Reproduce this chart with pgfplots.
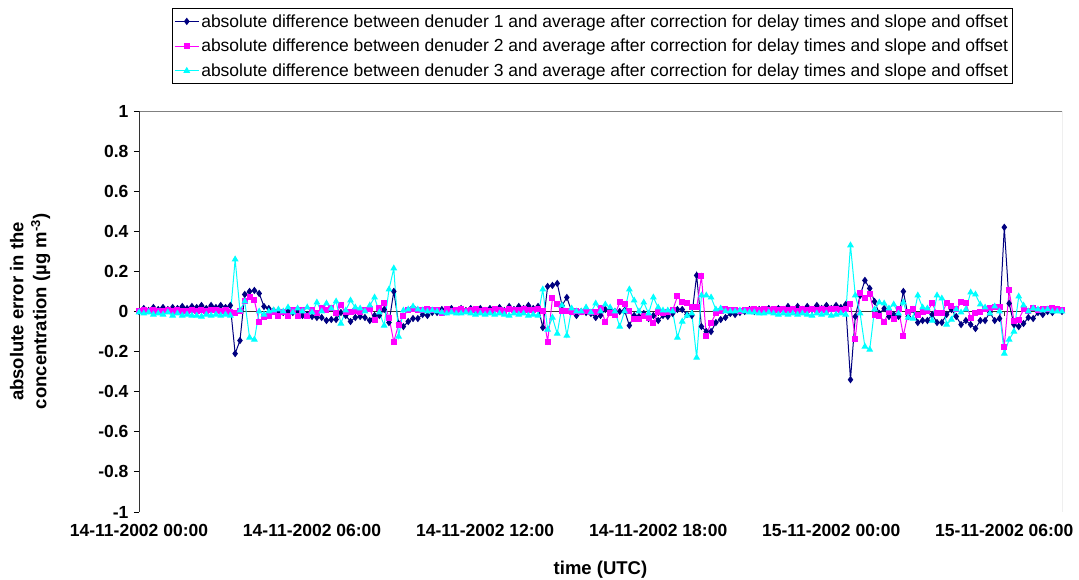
\documentclass[border=0pt]{standalone}
\usepackage{fontspec}
\setmainfont{Liberation Sans}
\usepackage{pgfplots}
\pgfplotsset{compat=1.18}
\usepackage{pgfplotstable}

\definecolor{denOne}{RGB}{0,0,128}
\definecolor{denTwo}{RGB}{255,0,255}
\definecolor{denThree}{RGB}{0,255,255}
\definecolor{frame}{RGB}{128,128,128}

% minutes after 14-11-2002 00:00 UTC; absolute differences in ug m^-3
\pgfplotstableread{
min s1 s2 s3
0 0.0 0.0 -0.005
10 0.015 0.005 -0.01
20 0.005 0.0 -0.005
30 0.02 0.005 -0.015
40 0.01 0.0 -0.01
50 0.02 0.0 -0.015
60 0.01 0.005 -0.005
70 0.02 0.0 -0.02
80 0.015 0.005 -0.01
90 0.025 0.0 -0.02
100 0.015 0.0 -0.015
110 0.025 0.005 -0.02
120 0.02 0.0 -0.02
130 0.03 0.005 -0.025
140 0.015 0.0 -0.015
150 0.03 0.005 -0.02
160 0.02 0.005 -0.015
170 0.03 0.0 -0.02
180 0.02 0.005 -0.015
190 0.03 -0.005 -0.02
200 -0.21 -0.01 0.26
210 -0.145 0.0 0.005
220 0.085 0.05 0.05
230 0.10 0.07 -0.13
240 0.105 0.055 -0.14
250 0.09 -0.05 0.0
260 0.025 -0.025 -0.015
270 0.015 -0.02 0.0
280 0.005 -0.005 0.005
290 0.0 -0.02 0.01
300 -0.005 -0.005 0.0
310 0.0 -0.02 0.02
320 -0.005 0.005 -0.005
330 0.0 -0.02 0.015
340 -0.02 0.005 0.0
350 -0.015 -0.02 0.02
360 -0.025 0.005 -0.005
370 -0.03 -0.01 0.045
380 -0.03 0.015 0.0
390 -0.045 0.005 0.04
400 -0.04 0.015 0.015
410 -0.04 -0.01 0.05
420 -0.005 0.03 -0.06
430 -0.02 -0.005 0.005
440 -0.05 -0.005 0.055
450 -0.03 0.0 0.02
460 -0.025 -0.005 0.015
470 -0.03 0.005 0.0
480 -0.045 0.01 0.03
490 -0.02 -0.04 0.07
500 -0.02 0.015 -0.005
510 0.01 0.04 -0.07
520 -0.055 -0.03 0.11
530 0.10 -0.15 0.215
540 -0.06 -0.065 -0.125
550 -0.075 -0.02 0.005
560 -0.05 0.005 0.01
570 -0.035 0.01 0.025
580 -0.035 0.005 0.01
590 -0.015 0.005 0.005
600 -0.02 0.01 0.0
610 -0.005 0.005 0.005
620 -0.005 0.005 0.0
630 0.01 -0.01 -0.005
640 0.0 0.01 -0.01
650 0.015 0.0 -0.005
660 0.0 0.005 -0.01
670 0.015 0.01 -0.01
680 0.005 0.0 -0.005
690 0.015 0.005 -0.01
700 0.005 0.01 -0.015
710 0.015 0.0 -0.01
720 0.005 0.005 -0.015
730 0.015 0.0 -0.01
740 0.005 0.01 -0.015
750 0.02 0.005 -0.01
760 0.005 0.0 -0.015
770 0.025 0.01 -0.02
780 0.01 0.005 -0.01
790 0.025 0.005 -0.015
800 0.015 0.01 -0.01
810 0.03 0.005 -0.02
820 0.015 0.005 -0.015
830 0.025 0.01 -0.02
840 -0.08 0.0 0.11
850 0.125 -0.15 -0.09
860 0.13 0.065 -0.03
870 0.14 0.035 -0.11
880 0.03 0.0 0.03
890 0.07 0.0 -0.12
900 0.0 -0.005 0.015
910 -0.02 0.0 0.0
920 0.0 -0.005 0.0
930 -0.005 0.0 0.02
940 -0.01 -0.005 -0.005
950 -0.03 -0.005 0.04
960 -0.02 0.015 0.0
970 0.01 -0.05 0.035
980 0.005 -0.01 0.02
990 0.0 -0.015 0.0
1000 0.0 0.045 -0.075
1010 0.005 0.035 0.0
1020 -0.07 0.0 0.11
1030 -0.02 -0.035 0.055
1040 -0.025 -0.035 0.0
1050 -0.01 -0.02 0.045
1060 -0.035 -0.03 -0.01
1070 -0.02 -0.055 0.07
1080 -0.045 -0.005 0.02
1090 -0.02 -0.01 0.005
1100 -0.025 -0.005 0.005
1110 -0.01 0.005 0.0
1120 0.01 0.075 -0.13
1130 0.01 0.045 -0.05
1140 -0.015 0.04 -0.02
1150 -0.02 0.02 -0.01
1160 0.18 0.02 -0.23
1170 -0.075 0.175 0.08
1180 -0.1 -0.12 0.08
1190 -0.1 -0.055 0.07
1200 -0.055 -0.01 0.01
1210 -0.04 0.0 0.015
1220 -0.03 0.01 0.0
1230 -0.01 0.005 0.0
1240 -0.015 0.005 0.0
1250 -0.005 0.0 0.005
1260 0.0 0.005 0.0
1270 0.01 0.005 -0.005
1280 0.0 0.01 -0.005
1290 0.01 0.005 -0.01
1300 0.005 0.01 -0.01
1310 0.015 0.005 -0.005
1320 0.005 0.01 -0.01
1330 0.015 0.005 -0.015
1340 0.01 0.01 -0.01
1350 0.025 0.005 -0.015
1360 0.01 0.01 -0.01
1370 0.025 0.0 -0.015
1380 0.01 0.01 -0.01
1390 0.025 0.005 -0.015
1400 0.01 0.01 -0.02
1410 0.03 0.005 -0.01
1420 0.015 0.01 -0.015
1430 0.03 0.005 -0.01
1440 0.015 0.01 -0.02
1450 0.03 0.01 -0.015
1460 0.02 0.005 -0.01
1470 0.035 0.01 -0.015
1480 -0.34 0.035 0.33
1490 -0.025 -0.135 0.08
1500 0.08 0.09 -0.01
1510 0.155 0.065 -0.175
1520 0.115 0.085 -0.19
1530 0.05 -0.015 0.01
1540 -0.01 -0.02 0.045
1550 0.015 -0.05 0.04
1560 -0.025 -0.005 0.015
1570 -0.015 -0.035 0.035
1580 -0.025 0.01 -0.01
1590 0.1 -0.12 0.045
1600 -0.025 -0.005 -0.03
1610 0.01 0.01 -0.035
1620 -0.055 -0.015 0.08
1630 -0.045 -0.005 0.02
1640 -0.045 0.0 0.015
1650 -0.015 0.04 -0.045
1660 -0.055 -0.01 0.08
1670 -0.055 -0.01 0.065
1680 -0.015 0.04 -0.065
1690 0.01 0.025 -0.04
1700 -0.025 0.01 0.01
1710 -0.065 0.045 -0.005
1720 -0.045 0.04 0.01
1730 -0.065 -0.03 0.095
1740 -0.085 -0.01 0.085
1750 -0.045 -0.005 0.035
1760 -0.045 0.01 0.02
1770 -0.005 0.015 -0.01
1780 -0.045 0.02 0.025
1790 -0.035 0.02 0.0
1800 0.42 -0.175 -0.21
1810 0.04 0.105 -0.14
1820 -0.065 -0.045 -0.1
1830 -0.075 -0.04 0.075
1840 -0.06 0.01 0.03
1850 -0.03 0.0 0.0
1860 -0.035 0.015 0.015
1870 -0.005 0.005 0.01
1880 -0.015 0.01 0.005
1890 0.0 0.01 0.01
1900 -0.005 0.015 0.0
1910 0.01 0.01 0.0
1920 0.0 0.005 0.0
}\denuderdiff

\begin{document}
\begin{tikzpicture}
\begin{axis}[
  at={(139pt,68pt)}, anchor=south west,
  scale only axis, width=923pt, height=401pt,
  xmin=0, xmax=1920, ymin=-1, ymax=1,
  axis line style={draw=none},
  xtick={0,360,720,1080,1440,1800},
  xticklabels={14-11-2002 00:00,14-11-2002 06:00,14-11-2002 12:00,14-11-2002 18:00,15-11-2002 00:00,15-11-2002 06:00},
  xtick style={draw=none},
  ytick={-1,-0.8,-0.6,-0.4,-0.2,0,0.2,0.4,0.6,0.8,1},
  yticklabels={-1,-0.8,-0.6,-0.4,-0.2,0,0.2,0.4,0.6,0.8,1},
  ytick pos=left, tick align=outside, major tick length=5pt,
  ytick style={black, line width=0.9pt},
  ticklabel style={font=\fontsize{17.5}{21}\selectfont\bfseries},
  yticklabel style={xshift=-2pt},
  xticklabel style={yshift=-4pt},
  xlabel={time (UTC)},
  ylabel={absolute error in the\\concentration (µg m\textsuperscript{-3})},
  label style={font=\fontsize{18.5}{23}\selectfont\bfseries, align=center},
  xlabel style={at={(axis description cs:0.5,-0.143)}, anchor=center},
  ylabel style={at={(axis description cs:-0.118,0.5)}, anchor=center},
  legend style={at={(0.491,1.257)}, anchor=north, draw=black, line width=0.8pt,
    font=\fontsize{17.5}{21}\selectfont, row sep=6.5pt, inner xsep=2pt, inner ysep=4pt},
  legend cell align=left,
  legend image code/.code={\draw[mark repeat=2,mark phase=2] plot coordinates {(0pt,0pt) (12pt,0pt) (24pt,0pt)};},
]
\draw[frame, line width=0.9pt] (rel axis cs:0,0) rectangle (rel axis cs:1,1);
\draw[black!80, line width=1pt] (rel axis cs:0,0) -- (rel axis cs:0,1);
\draw[black!80, line width=0.9pt] (axis cs:0,0) -- (axis cs:1920,0);
\pgfplotsinvokeforeach{0,360,720,1080,1440,1800}{
  \draw[black!80, line width=0.9pt] (axis cs:#1,0) -- ++(0pt,-5pt);
}
\addplot[denOne, line width=1pt, mark=diamond*, mark size=2.9pt, mark options={solid}]
  table[x=min, y=s1] {\denuderdiff};
\addlegendentry{absolute difference between denuder 1 and average after correction for delay times and slope and offset}
\addplot[denTwo, line width=1pt, mark=square*, mark size=2.5pt, mark options={solid}]
  table[x=min, y=s2] {\denuderdiff};
\addlegendentry{absolute difference between denuder 2 and average after correction for delay times and slope and offset}
\addplot[denThree, line width=1pt, mark=triangle*, mark size=3pt, mark options={solid}]
  table[x=min, y=s3] {\denuderdiff};
\addlegendentry{absolute difference between denuder 3 and average after correction for delay times and slope and offset}
\end{axis}
\pgfresetboundingbox
\path[use as bounding box] (0pt,0pt) rectangle (1079pt,580pt);
\end{tikzpicture}
\end{document}
